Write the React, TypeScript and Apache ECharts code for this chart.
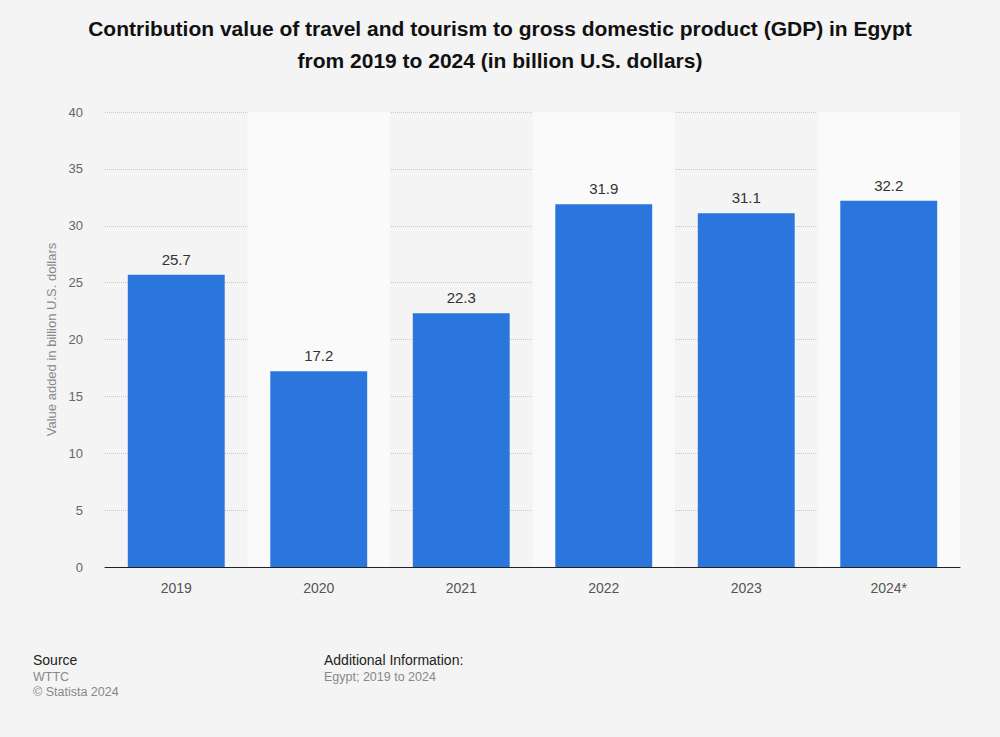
import React, { useEffect, useRef } from "react";
import * as echarts from "echarts";

const categories = ["2019", "2020", "2021", "2022", "2023", "2024*"];
const values = [25.7, 17.2, 22.3, 31.9, 31.1, 32.2];
const yTicks = [0, 5, 10, 15, 20, 25, 30, 35, 40];

const FONT = "'Liberation Sans', Arial, sans-serif";

export default function App() {
  const ref = useRef<HTMLDivElement>(null);
  useEffect(() => {
    document.body.style.margin = "0";
    document.body.style.background = "#f4f4f4";
    const chart = echarts.init(ref.current!, null, { renderer: "svg" });
    chart.setOption({
      animation: false,
      backgroundColor: "#f4f4f4",
      textStyle: { fontFamily: FONT },
      title: {
        text: "Contribution value of travel and tourism to gross domestic product (GDP) in Egypt\nfrom 2019 to 2024 (in billion U.S. dollars)",
        left: "center",
        top: 12,
        padding: 0,
        textStyle: { fontSize: 21, fontWeight: "bold", color: "#111", lineHeight: 32, fontFamily: FONT },
      },
      grid: { left: 105, right: 40, top: 112, bottom: 170, containLabel: false },
      xAxis: {
        type: "category",
        data: categories,
        axisLine: { lineStyle: { color: "#222", width: 1 } },
        axisTick: { show: false },
        axisLabel: { color: "#555", fontSize: 14, margin: 14, fontFamily: FONT },
        splitArea: { show: true, areaStyle: { color: ["rgba(0,0,0,0)", "#fafafa"] } },
      },
      yAxis: {
        type: "value",
        min: yTicks[0],
        max: yTicks[yTicks.length - 1],
        interval: 5,
        name: "Value added in billion U.S. dollars",
        nameLocation: "middle",
        nameGap: 45,
        nameTextStyle: { color: "#888", fontSize: 13, fontFamily: FONT },
        axisLine: { show: false },
        axisTick: { show: false },
        axisLabel: { color: "#666", fontSize: 13, margin: 22, fontFamily: FONT },
        splitLine: { lineStyle: { color: "#c8c8c8", type: "dotted", width: 1 } },
      },
      series: [
        {
          type: "bar",
          data: values,
          barWidth: "68%",
          itemStyle: { color: "#2a76dd" },
          label: {
            show: true,
            position: "top",
            distance: 8,
            color: "#333",
            fontSize: 15,
            fontFamily: FONT,
          },
        },
      ],
      graphic: [
        { type: "text", left: 33, top: 653, style: { text: "Source", fontSize: 14, fill: "#222", fontFamily: FONT } },
        { type: "text", left: 33, top: 670, style: { text: "WTTC", fontSize: 12.5, fill: "#888", fontFamily: FONT } },
        { type: "text", left: 33, top: 685, style: { text: "© Statista 2024", fontSize: 12.5, fill: "#888", fontFamily: FONT } },
        { type: "text", left: 324, top: 653, style: { text: "Additional Information:", fontSize: 14, fill: "#222", fontFamily: FONT } },
        { type: "text", left: 324, top: 670, style: { text: "Egypt; 2019 to 2024", fontSize: 12.5, fill: "#888", fontFamily: FONT } },
      ],
    });
    return () => chart.dispose();
  }, []);
  return <div ref={ref} style={{ width: 1000, height: 737 }} />;
}
